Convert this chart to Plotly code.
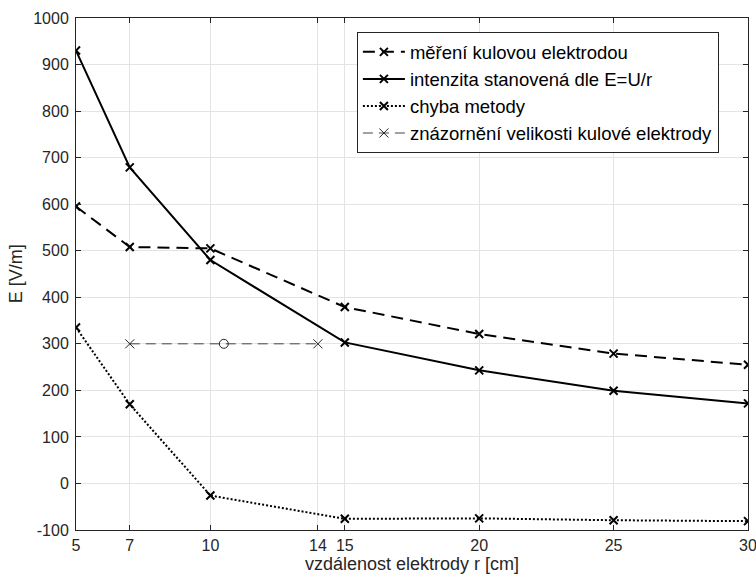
import plotly.graph_objects as go

r = [5, 7, 10, 15, 20, 25, 30]
mereni = [595, 508, 505, 379, 321, 279, 255]
intenzita = [930, 679, 480, 303, 243, 199, 172]
chyba = [335, 170, -26, -76, -75, -79, -81]

elektroda_x = [7, 10.5, 14]
elektroda_y = [300, 300, 300]

x_ticks = [5, 7, 10, 14, 15, 20, 25, 30]
y_ticks = list(range(-100, 1001, 100))

fig = go.Figure()
mk = dict(symbol="x-thin-open", size=8, line=dict(width=2, color="black"), color="black")
fig.add_trace(go.Scatter(x=r, y=mereni, mode="lines+markers", name="měření kulovou elektrodou",
                         line=dict(color="black", width=2, dash="12px,7px"), marker=mk))
fig.add_trace(go.Scatter(x=r, y=intenzita, mode="lines+markers", name="intenzita stanovená dle E=U/r",
                         line=dict(color="black", width=2), marker=mk))
fig.add_trace(go.Scatter(x=r, y=chyba, mode="lines+markers", name="chyba metody",
                         line=dict(color="black", width=2, dash="2px,2px"), marker=mk))
fig.add_trace(go.Scatter(x=elektroda_x, y=elektroda_y, mode="lines+markers",
                         name="znázornění velikosti kulové elektrody",
                         line=dict(color="#444444", width=1, dash="10px,6px"),
                         marker=dict(symbol=["x-thin-open", "circle-open", "x-thin-open"], size=9,
                                     color="#222222", line=dict(width=1, color="#222222"))))

font = "Liberation Sans, Arial, sans-serif"
fig.update_layout(
    width=756, height=576,
    margin=dict(l=76, r=8, t=18, b=46),
    paper_bgcolor="white", plot_bgcolor="white",
    font=dict(family=font, size=16, color="#262626"),
    showlegend=True,
    legend=dict(x=0.418, y=0.972, xanchor="left", yanchor="top",
                bgcolor="white", bordercolor="#262626", borderwidth=1, itemwidth=42,
                font=dict(size=18.5, color="black"), tracegroupgap=0),
    annotations=[
        dict(text="vzdálenost elektrody r [cm]", xref="paper", yref="paper", x=0.5, y=-0.09,
             xanchor="center", yanchor="bottom", showarrow=False, font=dict(size=18, color="#262626")),
        dict(text="E [V/m]", xref="paper", yref="paper", x=-0.089, y=0.5, textangle=-90,
             xanchor="center", yanchor="middle", showarrow=False, font=dict(size=18, color="#262626")),
    ],
)
axis_common = dict(showgrid=True, gridcolor="#e3e3e3", gridwidth=1, automargin=False,
                   showline=True, linecolor="#262626", linewidth=1, mirror="ticks",
                   ticks="inside", ticklen=5, tickcolor="#262626", zeroline=False,
                   ticklabeloverflow="allow",
                   tickfont=dict(size=16, color="#262626"))
fig.update_xaxes(range=[5, 30], tickmode="array", tickvals=x_ticks, ticktext=[str(v) for v in x_ticks],
                 ticklabelstandoff=1, **axis_common)
fig.update_yaxes(range=[-100, 1000], tickmode="array", tickvals=y_ticks, ticktext=[str(v) for v in y_ticks],
                 ticklabelstandoff=3, **axis_common)

# remove the default 8px page margin so the figure fills the window exactly
fig.write_html("out.html", config={"displayModeBar": False},
               post_script="document.body.style.margin='0';document.body.style.overflow='hidden';")
